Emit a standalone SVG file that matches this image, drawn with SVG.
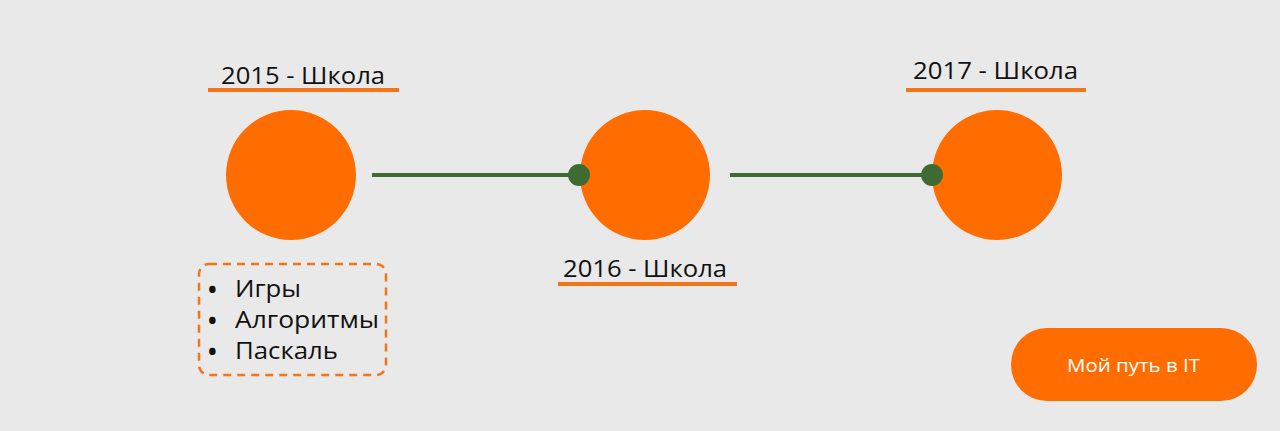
<svg xmlns="http://www.w3.org/2000/svg" width="1280" height="431" viewBox="0 0 1280 431">
<style>
.lbl{font-family:"Open Sans","Noto Sans","DejaVu Sans",sans-serif;font-size:23px;fill:#111}
.bul{font-family:"Open Sans","Noto Sans","DejaVu Sans",sans-serif;font-size:23px;font-weight:bold;fill:#111}
.ul{stroke:#f57418;stroke-width:4}
.node{fill:#ff6d00}
.conn{stroke:#3e6b34;stroke-width:4;fill:none}
.dot{fill:#3e6b34}
</style>
<rect width="1280" height="431" fill="#e9e9e9"/>
<g id="node2015">
<circle class="node" cx="291" cy="175" r="65"/>
<text class="lbl" x="221" y="84" textLength="164" lengthAdjust="spacingAndGlyphs">2015 - Школа</text>
<line class="ul" x1="208" y1="90" x2="399" y2="90"/>
</g>
<g id="node2016">
<circle class="node" cx="645" cy="175" r="65"/>
<text class="lbl" x="563" y="277" textLength="164" lengthAdjust="spacingAndGlyphs">2016 - Школа</text>
<line class="ul" x1="558" y1="284" x2="737" y2="284"/>
</g>
<g id="node2017">
<circle class="node" cx="997" cy="175" r="65"/>
<text class="lbl" x="913" y="79" textLength="165" lengthAdjust="spacingAndGlyphs">2017 - Школа</text>
<line class="ul" x1="906" y1="90" x2="1086" y2="90"/>
</g>
<g id="connectors">
<line class="conn" x1="372" y1="175" x2="579" y2="175"/>
<circle class="dot" cx="579" cy="175" r="11"/>
<line class="conn" x1="730" y1="175" x2="932" y2="175"/>
<circle class="dot" cx="932" cy="175" r="11"/>
</g>
<g id="list">
<rect x="199" y="264" width="187" height="111" rx="10" fill="none" stroke="#f57418" stroke-width="2.5" stroke-dasharray="8 6"/>
<text class="bul" x="208" y="298">•</text><text class="lbl" x="235" y="297" textLength="66" lengthAdjust="spacingAndGlyphs">Игры</text>
<text class="bul" x="208" y="329">•</text><text class="lbl" x="235" y="328" textLength="144" lengthAdjust="spacingAndGlyphs">Алгоритмы</text>
<text class="bul" x="208" y="360">•</text><text class="lbl" x="235" y="359" textLength="103" lengthAdjust="spacingAndGlyphs">Паскаль</text>
</g>
<g id="title">
<rect x="1011" y="328" width="246" height="73" rx="36" fill="#ff6d00"/>
<text x="1067" y="372" textLength="133" lengthAdjust="spacingAndGlyphs" font-family="Open Sans, Noto Sans, sans-serif" font-size="19" fill="#fff">Мой путь в IT</text>
</g>
</svg>
